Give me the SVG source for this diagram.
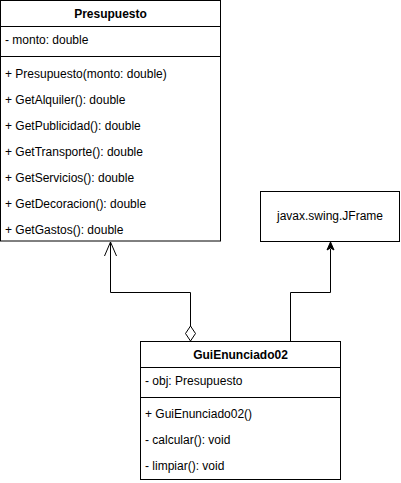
<svg xmlns="http://www.w3.org/2000/svg" width="401" height="483" viewBox="0 0 401 483">
<style>
.box{fill:#fff;stroke:#000;stroke-width:1}
.t{font-family:"Liberation Sans",Arial,sans-serif;font-size:12px;fill:#000}
.b{font-weight:bold}
.c{text-anchor:middle}
.ln{fill:none;stroke:#000;stroke-width:1}
</style>
<rect width="401" height="483" fill="#fff"/>
<g id="presupuesto">
<rect class="box" x="0.5" y="0.5" width="220" height="240.5"/>
<line class="ln" x1="0.5" y1="26.5" x2="220.5" y2="26.5"/>
<line class="ln" x1="0.5" y1="56.5" x2="220.5" y2="56.5"/>
<text class="t b c" x="110.5" y="18">Presupuesto</text>
<text class="t" x="5" y="44">- monto: double</text>
<text class="t" x="5" y="78">+ Presupuesto(monto: double)</text>
<text class="t" x="5" y="104">+ GetAlquiler(): double</text>
<text class="t" x="5" y="130">+ GetPublicidad(): double</text>
<text class="t" x="5" y="156">+ GetTransporte(): double</text>
<text class="t" x="5" y="182">+ GetServicios(): double</text>
<text class="t" x="5" y="208">+ GetDecoracion(): double</text>
<text class="t" x="5" y="234">+ GetGastos(): double</text>
</g>
<g id="jframe">
<rect class="box" x="260.5" y="191.5" width="139" height="50"/>
<text class="t c" x="330" y="220">javax.swing.JFrame</text>
</g>
<g id="guienunciado02">
<rect class="box" x="140.5" y="341.5" width="200" height="138"/>
<line class="ln" x1="140.5" y1="367.5" x2="340.5" y2="367.5"/>
<line class="ln" x1="140.5" y1="397.5" x2="340.5" y2="397.5"/>
<text class="t b c" x="240.5" y="359">GuiEnunciado02</text>
<text class="t" x="145" y="385">- obj: Presupuesto</text>
<text class="t" x="145" y="418">+ GuiEnunciado02()</text>
<text class="t" x="145" y="444">- calcular(): void</text>
<text class="t" x="145" y="470">- limpiar(): void</text>
</g>
<g id="connectors">
<path class="ln" d="M190.5 326 V292.5 H110.5 V242"/>
<path class="ln" d="M104.5 256 L110.5 242 L116.5 256"/>
<path d="M190.5 341 L185.5 333.5 L190.5 326 L195.5 333.5 Z" fill="#fff" stroke="#000"/>
<path class="ln" d="M290.5 341 V292.5 H330.5 V249"/>
<path d="M330.5 242 L334 250 L330.5 248 L327 250 Z" fill="#000" stroke="#000"/>
</g>
</svg>
